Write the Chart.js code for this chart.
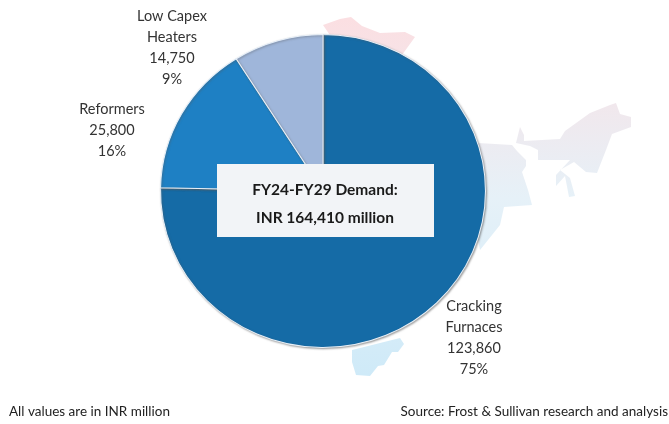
<!DOCTYPE html>
<html>
<head>
<meta charset="utf-8">
<script src="https://cdn.jsdelivr.net/npm/chart.js@4"></script>
<style>
  html, body { margin: 0; padding: 0; background: #fff; }
  canvas { display: block; }
</style>
</head>
<body>
<canvas id="demandPie" width="669" height="424"></canvas>
<script>
const categories = ['Cracking Furnaces', 'Reformers', 'Low Capex Heaters'];
const demandValues = [123860, 25800, 14750];
const valueLabels = ['123,860', '25,800', '14,750'];
const shareLabels = ['75%', '16%', '9%'];
const sliceColors = ['#156ba6', '#1e80c4', '#9fb6da'];
const boxLines = ['FY24-FY29 Demand:', 'INR 164,410 million'];
const noteLeft = 'All values are in INR million';
const noteRight = 'Source: Frost & Sullivan research and analysis';

// faded map of India behind the pie (decoration only)
const mapShapes = [
  [[323,25],[340,19],[351,17],[362,26],[380,33],[405,32],[415,37],[402,55],[340,50]],
  [[478,143],[512,145],[517,151],[526,160],[526,166],[522,172],[528,190],[532,205],[504,207],[500,225],[480,250],[470,200]],
  [[516,143],[520,127],[524,135],[524,141],[560,139],[565,131],[590,113],[610,105],[616,103],[620,114],[631,117],[631,127],[612,134],[606,150],[597,173],[586,172],[574,162],[560,170],[570,178],[575,196],[569,197],[565,176],[556,186],[556,175],[570,160],[538,160],[538,150],[530,146]],
  [[352,350],[400,338],[404,344],[398,352],[392,352],[384,365],[378,366],[370,376],[356,375],[352,362]]
];

// text blocks: [centre x, first baseline y, lines]
const sliceText = [
  [474, 311, ['Cracking', 'Furnaces', valueLabels[0], shareLabels[0]]],
  [112, 114, ['Reformers', valueLabels[1], shareLabels[1]]],
  [172, 21, ['Low Capex', 'Heaters', valueLabels[2], shareLabels[2]]]
];

const backdrop = {
  id: 'backdrop',
  beforeDatasetsDraw(chart) {
    const ctx = chart.ctx;
    const grad = ctx.createLinearGradient(0, 20, 0, 375);
    grad.addColorStop(0, '#fbdfe2');
    grad.addColorStop(0.5, '#e6f1f8');
    grad.addColorStop(1, '#cfeaf8');
    ctx.save();
    ctx.fillStyle = grad;
    mapShapes.forEach(shape => {
      ctx.beginPath();
      shape.forEach((p, i) => i ? ctx.lineTo(p[0], p[1]) : ctx.moveTo(p[0], p[1]));
      ctx.closePath();
      ctx.fill();
    });
    ctx.restore();

    // pie in the picture is a bit wider than tall
    const arc = chart.getDatasetMeta(0).data[0];
    ctx.save();
    ctx.translate(arc.x, arc.y);
    ctx.scale(163 / 157, 1);
    ctx.translate(-arc.x, -arc.y);
    ctx.shadowColor = 'rgba(90,90,90,0.55)';
    ctx.shadowBlur = 2;
    ctx.shadowOffsetX = 1;
    ctx.shadowOffsetY = 1;
  },
  afterDatasetsDraw(chart) {
    const ctx = chart.ctx;
    ctx.restore();

    ctx.save();
    ctx.textAlign = 'center';
    ctx.fillStyle = '#333';
    ctx.font = '14.5px Lato';
    sliceText.forEach(block => {
      block[2].forEach((line, i) => ctx.fillText(line, block[0], block[1] + i * 21));
    });

    ctx.fillStyle = '#f2f4f7';
    ctx.fillRect(217, 164, 217, 73);
    ctx.fillStyle = '#1a1a1a';
    ctx.font = 'bold 15.5px Lato';
    ctx.fillText(boxLines[0], 325, 195);
    ctx.fillText(boxLines[1], 325, 223);

    ctx.fillStyle = '#222';
    ctx.font = '13.5px Lato';
    ctx.textAlign = 'left';
    ctx.fillText(noteLeft, 9, 416);
    ctx.textAlign = 'right';
    ctx.fillText(noteRight, 668, 416);
    ctx.restore();
  }
};

new Chart(document.getElementById('demandPie').getContext('2d'), {
  type: 'pie',
  data: {
    labels: categories,
    datasets: [{
      data: demandValues,
      backgroundColor: sliceColors,
      borderColor: '#e8f0f8',
      borderWidth: 1,
      clip: false
    }]
  },
  options: {
    responsive: false,
    animation: false,
    layout: { padding: { left: 166, right: 189, top: 34, bottom: 76 } },
    plugins: {
      legend: { display: false },
      tooltip: { enabled: false }
    }
  },
  plugins: [backdrop]
});
</script>
</body>
</html>
